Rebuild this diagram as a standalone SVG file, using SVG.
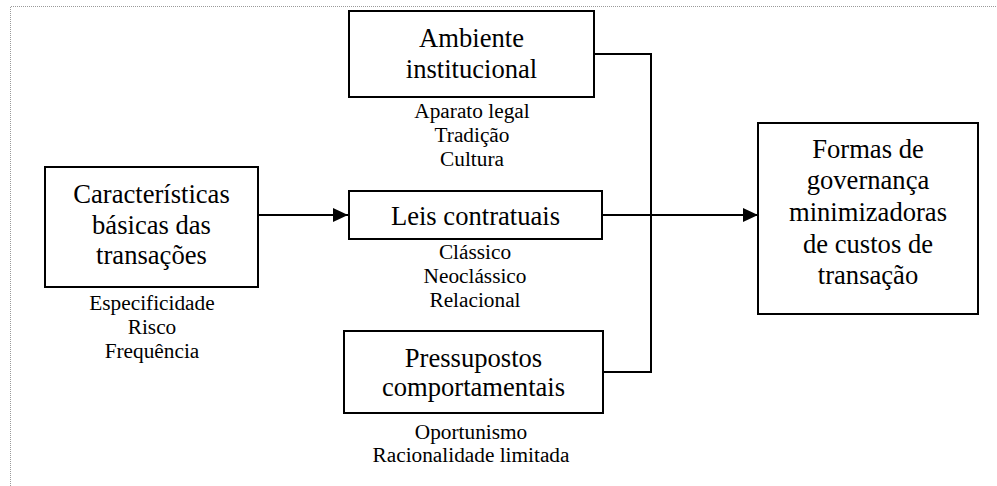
<svg xmlns="http://www.w3.org/2000/svg" width="997" height="486" viewBox="0 0 997 486">
  <style>
    .box { fill: #ffffff; stroke: #000000; stroke-width: 2; }
    .title { font-family: "Liberation Serif", "Times New Roman", serif; font-size: 26.6px; fill: #000000; text-anchor: middle; }
    .note { font-family: "Liberation Serif", "Times New Roman", serif; font-size: 21.3px; fill: #000000; text-anchor: middle; }
    .wire { fill: none; stroke: #000000; stroke-width: 2; }
  </style>
  <defs>
    <marker id="arrow" markerWidth="15" markerHeight="14" refX="15" refY="7" orient="auto" markerUnits="userSpaceOnUse">
      <path d="M0,0 L15,7 L0,14 Z" fill="#000000"/>
    </marker>
  </defs>

  <rect x="0" y="0" width="997" height="486" fill="#ffffff"/>
  <!-- page frame -->
  <path d="M10.5,486 V6.5 H997" fill="none" stroke="#9a9a9a" stroke-width="1" stroke-dasharray="1,1"/>

  <g id="connectors">
    <line class="wire" x1="258" y1="215" x2="348" y2="215" marker-end="url(#arrow)"/>
    <path class="wire" d="M594,54 H651 V372 H603"/>
    <line class="wire" x1="602" y1="215" x2="758" y2="215" marker-end="url(#arrow)"/>
  </g>

  <g id="caracteristicas">
    <rect class="box" x="45" y="167" width="213" height="120"/>
    <text class="title" x="151.5" y="203">Características</text>
    <text class="title" x="151.5" y="234">básicas das</text>
    <text class="title" x="151.5" y="264">transações</text>
    <text class="note" x="152" y="310">Especificidade</text>
    <text class="note" x="152" y="334">Risco</text>
    <text class="note" x="152" y="358">Frequência</text>
  </g>

  <g id="ambiente">
    <rect class="box" x="349" y="11" width="245" height="86"/>
    <text class="title" x="471.5" y="47">Ambiente</text>
    <text class="title" x="471.5" y="78">institucional</text>
    <text class="note" x="472" y="118">Aparato legal</text>
    <text class="note" x="472" y="142">Tradição</text>
    <text class="note" x="472" y="166">Cultura</text>
  </g>

  <g id="leis">
    <rect class="box" x="349" y="191" width="253" height="48"/>
    <text class="title" x="475.5" y="225">Leis contratuais</text>
    <text class="note" x="475" y="259">Clássico</text>
    <text class="note" x="475" y="283">Neoclássico</text>
    <text class="note" x="475" y="307">Relacional</text>
  </g>

  <g id="pressupostos">
    <rect class="box" x="344" y="331" width="259" height="82"/>
    <text class="title" x="473.5" y="367">Pressupostos</text>
    <text class="title" x="473.5" y="396">comportamentais</text>
    <text class="note" x="471" y="439">Oportunismo</text>
    <text class="note" x="471" y="462">Racionalidade limitada</text>
  </g>

  <g id="formas">
    <rect class="box" x="758" y="123" width="220" height="191"/>
    <text class="title" x="868" y="158">Formas de</text>
    <text class="title" x="868" y="189">governança</text>
    <text class="title" x="868" y="221">minimizadoras</text>
    <text class="title" x="868" y="253">de custos de</text>
    <text class="title" x="868" y="284">transação</text>
  </g>
</svg>
